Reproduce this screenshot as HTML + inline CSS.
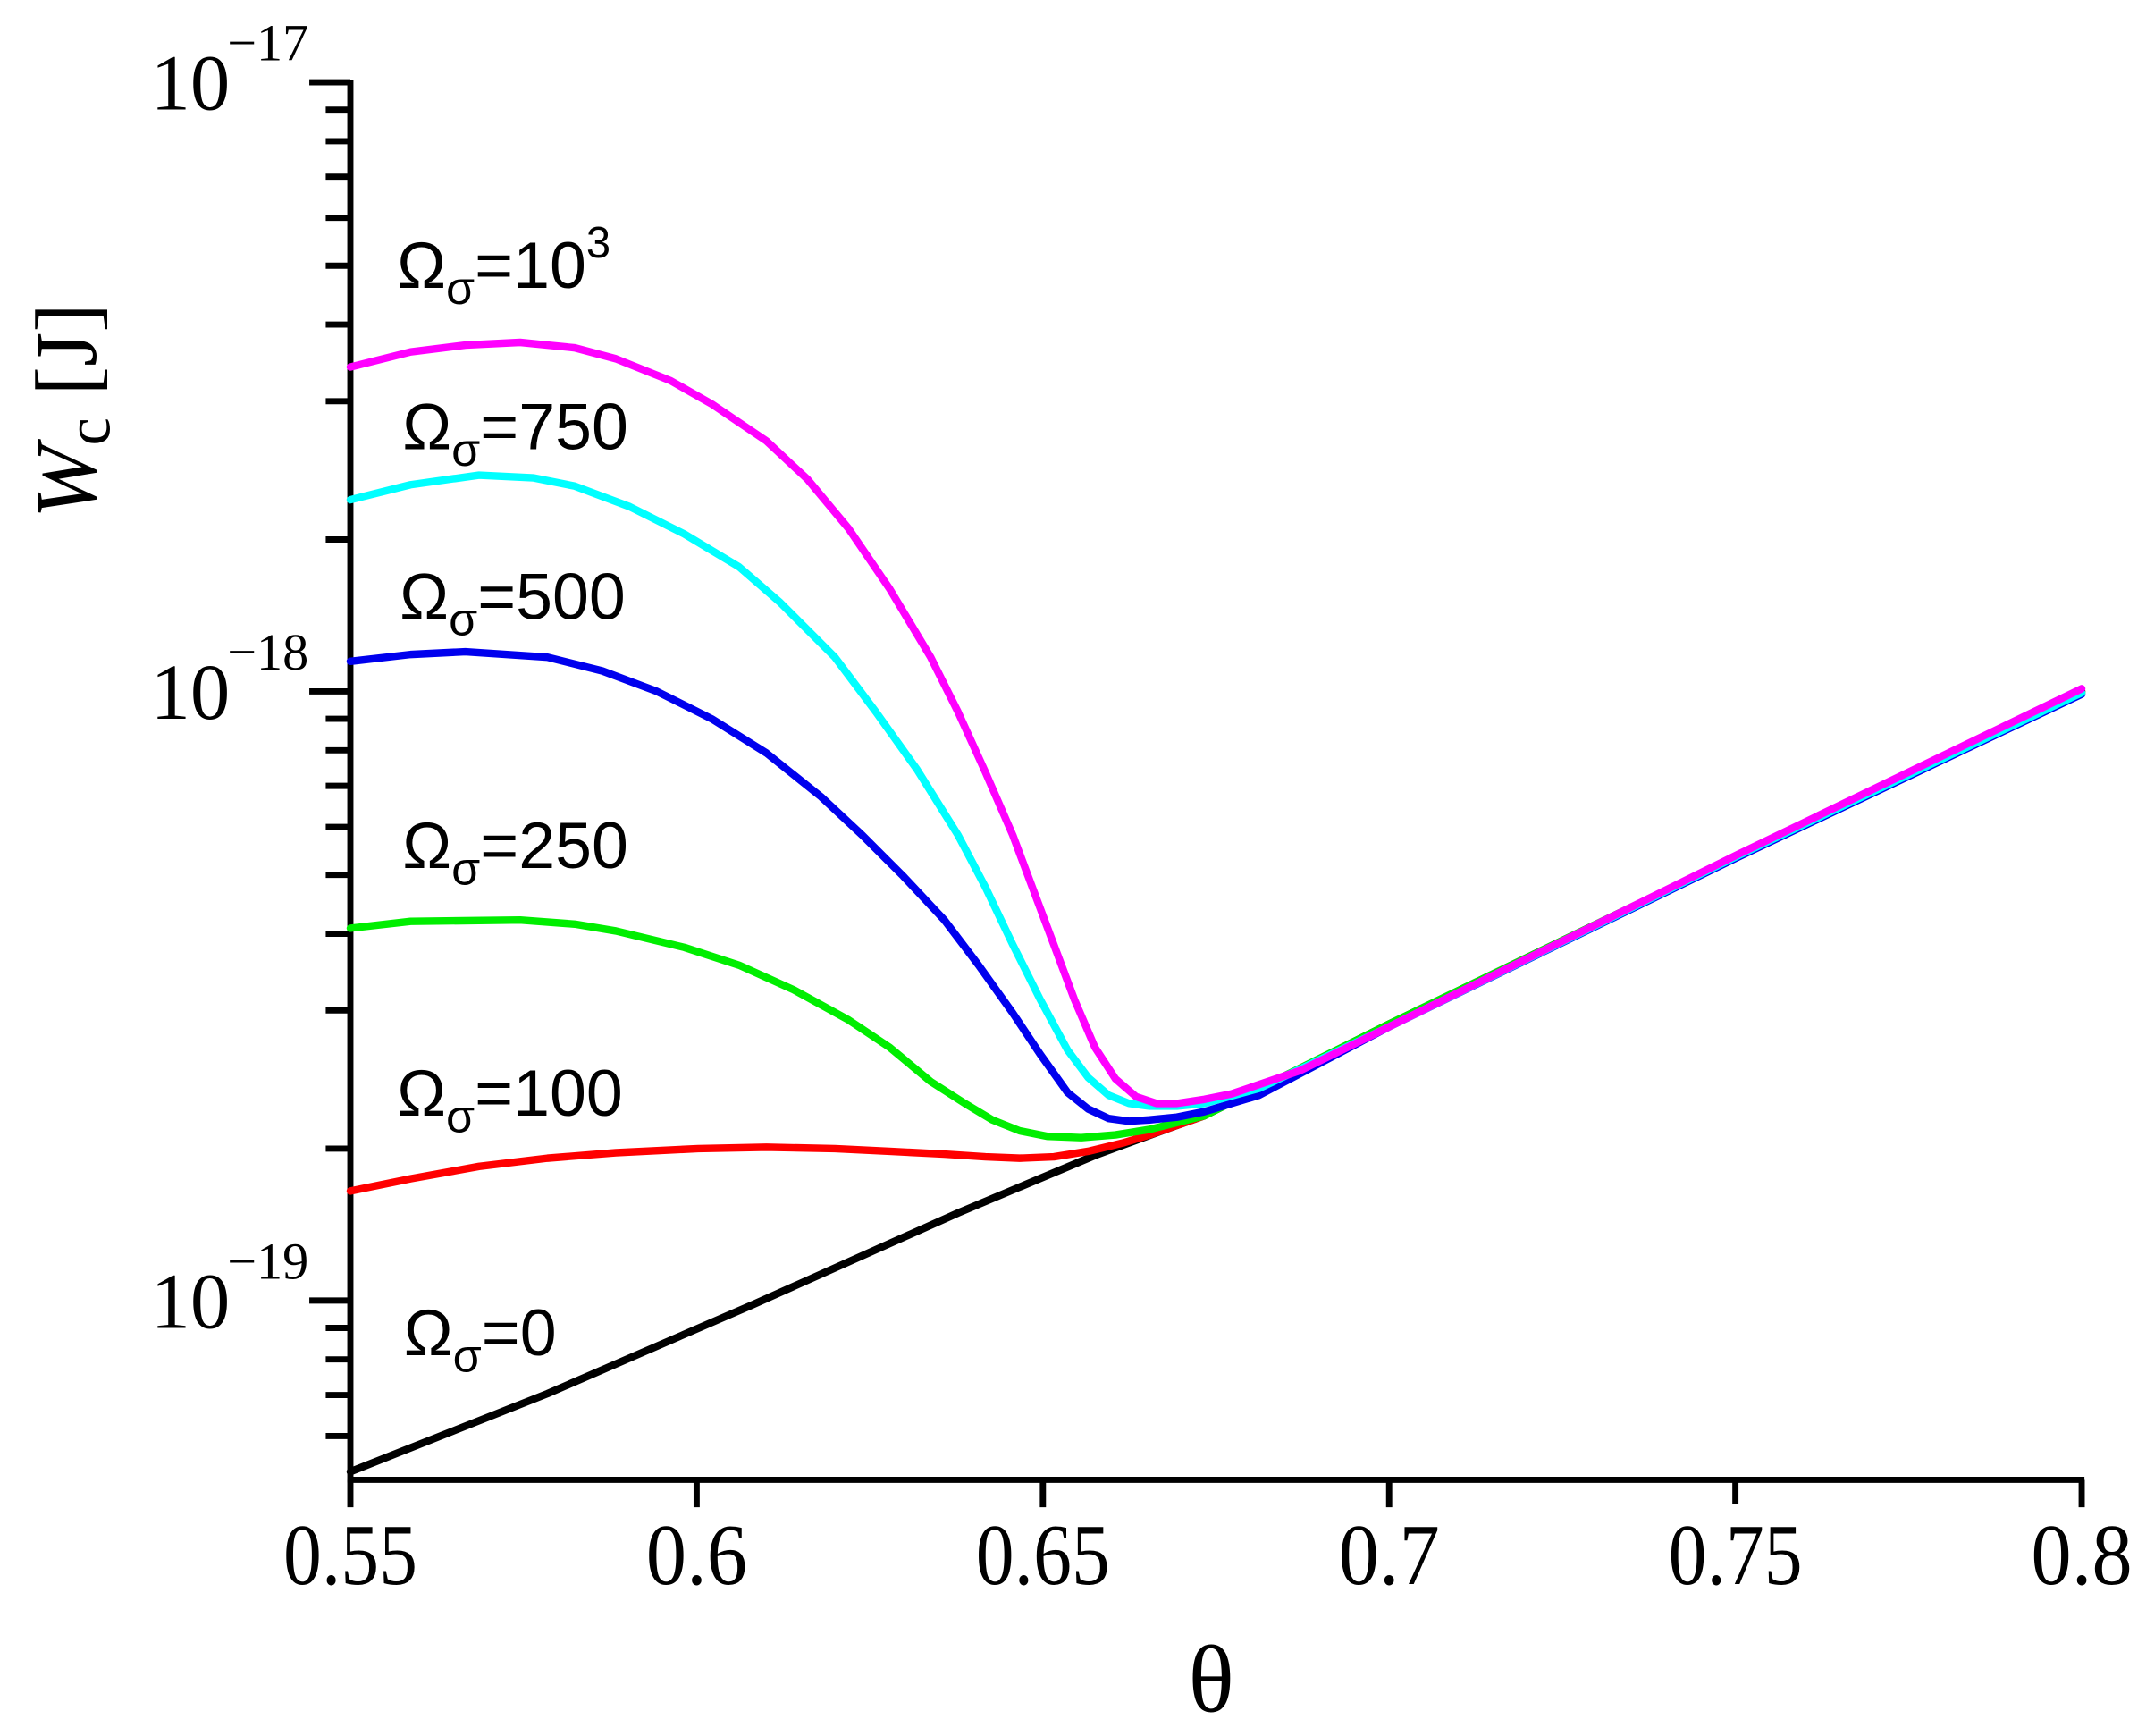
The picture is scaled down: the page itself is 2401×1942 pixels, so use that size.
<!DOCTYPE html>
<html><head><meta charset="utf-8"><style>html,body{margin:0;padding:0;background:#fff}svg{display:block}</style></head>
<body>
<svg width="2401" height="1942" viewBox="0 0 1568 1268" xmlns="http://www.w3.org/2000/svg">
<rect width="1568" height="1268" fill="#fff"/>
<g stroke="#000" stroke-width="4.5" fill="none">
<line x1="256" y1="58" x2="256" y2="1083"/>
<line x1="254" y1="1081" x2="1523" y2="1081"/>
<line x1="226" y1="60" x2="256" y2="60"/>
<line x1="226" y1="505" x2="256" y2="505"/>
<line x1="226" y1="950" x2="256" y2="950"/>
<path d="M238 80H256M238 103H256M238 129H256M238 159H256M238 194H256M238 237H256M238 293H256M238 394H256
M238 525H256M238 548H256M238 574H256M238 604H256M238 639H256M238 682H256M238 738H256M238 839H256
M238 970H256M238 993H256M238 1019H256M238 1049H256"/>
<path d="M256 1081V1101M509 1081V1101M762 1081V1101M1015 1081V1101M1268 1081V1099M1521 1081V1101"/>
</g>
<g font-family="Liberation Serif, serif" font-size="64" fill="#000">
<text x="256" y="1157" text-anchor="middle" textLength="98" lengthAdjust="spacingAndGlyphs">0.55</text>
<text x="509" y="1157" text-anchor="middle" textLength="74" lengthAdjust="spacingAndGlyphs">0.6</text>
<text x="762" y="1157" text-anchor="middle" textLength="98" lengthAdjust="spacingAndGlyphs">0.65</text>
<text x="1015" y="1157" text-anchor="middle" textLength="74" lengthAdjust="spacingAndGlyphs">0.7</text>
<text x="1268" y="1157" text-anchor="middle" textLength="98" lengthAdjust="spacingAndGlyphs">0.75</text>
<text x="1521" y="1157" text-anchor="middle" textLength="74" lengthAdjust="spacingAndGlyphs">0.8</text>
<text x="110" y="80" font-size="58">10</text><text x="166" y="44" font-size="38">−17</text>
<text x="110" y="525" font-size="58">10</text><text x="166" y="489" font-size="38">−18</text>
<text x="110" y="970" font-size="58">10</text><text x="166" y="934" font-size="38">−19</text>
<text x="885" y="1250" font-size="70" text-anchor="middle">θ</text>
<g transform="translate(70,300) rotate(-90)"><text x="0" y="0" text-anchor="middle" font-size="64"><tspan font-style="italic">W</tspan><tspan font-size="46" dy="10">c</tspan><tspan dy="-10"> [J]</tspan></text></g>
</g>
<g font-family="Liberation Sans, sans-serif" font-size="48" fill="#000">
<text x="290" y="210">Ω<tspan font-size="34" dy="12">σ</tspan><tspan dy="-12">=10</tspan><tspan font-size="32" dy="-22">3</tspan></text>
<text x="294" y="328">Ω<tspan font-size="34" dy="12">σ</tspan><tspan dy="-12">=750</tspan></text>
<text x="292" y="452">Ω<tspan font-size="34" dy="12">σ</tspan><tspan dy="-12">=500</tspan></text>
<text x="294" y="634">Ω<tspan font-size="34" dy="12">σ</tspan><tspan dy="-12">=250</tspan></text>
<text x="290" y="815">Ω<tspan font-size="34" dy="12">σ</tspan><tspan dy="-12">=100</tspan></text>
<text x="295" y="990">Ω<tspan font-size="34" dy="12">σ</tspan><tspan dy="-12">=0</tspan></text>
</g>
<g fill="none" stroke-width="5.5" stroke-linejoin="round" stroke-linecap="round">
<polyline stroke="#000" points="256,1075 400,1018 550,953 700,886 800,844 860,822 880,815 1015,748 1270,625 1521,505"/>
<polyline stroke="#ff0000" points="256,870 300,861 350,852 400,846 450,842 510,839 560,838 610,839 650,841 690,843 720,845 745,846 770,845 795,841 820,835 840,829 860,822 880,815"/>
<polyline stroke="#00ee00" points="256,678 300,673 380,672 420,675 450,680 500,692 540,705 580,723 620,745 650,765 680,790 705,806 725,818 745,826 765,830 790,831 815,829 840,825 880,815 1015,748 1270,625 1521,506"/>
<polyline stroke="#0000ee" points="256,483 300,478 340,476 400,480 440,490 480,505 520,525 560,550 600,582 630,610 660,640 690,672 715,705 740,740 760,770 780,798 795,810 810,817 825,819 840,818 860,816 880,812 920,800 1015,750 1270,626 1521,507"/>
<polyline stroke="#00ffff" points="256,365 300,354 350,347 390,349 420,355 460,370 500,390 540,414 570,440 610,480 640,520 670,562 700,610 720,648 740,690 760,730 780,767 795,787 810,800 825,806 840,808 860,808 880,806 920,795 1015,750 1270,625 1521,506"/>
<polyline stroke="#ff00ff" points="256,268 300,257 340,252 380,250 420,254 450,262 490,278 520,295 560,322 590,350 620,386 650,430 680,480 700,520 720,564 740,610 755,650 770,690 785,730 800,765 815,788 830,801 845,806 860,806 880,803 900,799 950,782 1015,750 1270,624 1521,503"/>
</g>
</svg>
</body></html>
